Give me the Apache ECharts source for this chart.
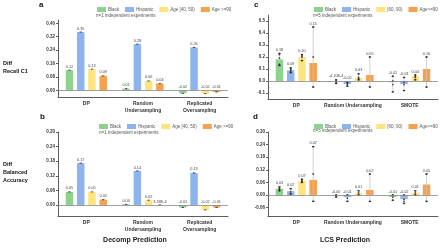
<!DOCTYPE html>
<html>
<head>
<meta charset="utf-8">
<script src="https://cdn.jsdelivr.net/npm/echarts@6/dist/echarts.min.js"></script>
<style>
  html, body { margin: 0; padding: 0; background: #fff; }
  #main { width: 440px; height: 248px; }
</style>
</head>
<body>
<div id="main"></div>
<script>
  const catsDecomp = ['DP', 'Random\nUndersampling', 'Replicated\nOversampling'];
  const catsLcs = ['DP', 'Random Undersampling', 'SMOTE'];
  const namesDecomp = ['Black', 'Hispanic', 'Age [40, 50)', 'Age >=90'];
  const namesLcs = ['Black', 'Hispanic', '[60, 90)', 'Age>=90'];
  const colors = ['#8fd18f', '#8db4ef', '#fde47f', '#f7a04e'];

  // a: Diff Recall C1, Decomp (n=1) - one row per group, one value per category
  const recallDecomp = [
    [0.12, 0.01, -0.018],
    [0.348, 0.276, 0.256],
    [0.126, 0.056, -0.02],
    [0.086, 0.04, -0.01],
  ];
  // b: Diff Balanced Accuracy, Decomp (n=1)
  const balancedDecomp = [
    [0.054, 0.003, -0.01],
    [0.172, 0.14, 0.132],
    [0.054, 0.02, -0.02],
    [0.022, 0.000333, -0.01],
  ];

  // c: Diff Recall C1, LCS (n=5)
  const recallLcsMean = [
    [0.18, -0.00041, -0.01],
    [0.088, -0.024, -0.026],
    [0.2, 0.026, 0.04],
    [0.15, 0.05, 0.1],
  ];
  const recallLcsLow = [
    [0.13, -0.02, -0.09],
    [0.07, -0.045, -0.08],
    [0.17, 0.01, 0.01],
    [-0.05, -0.05, -0.05],
  ];
  const recallLcsHigh = [
    [0.23, 0.01, 0.04],
    [0.11, -0.01, 0.03],
    [0.22, 0.06, 0.05],
    [0.45, 0.2, 0.2],
  ];
  const recallLcsPoints = [
    [[0.22, 0.23, 0.19, 0.14, 0.13], [0.01, 0.0, -0.01, -0.02], [0.04, 0.0, -0.03, -0.09]],
    [[0.11, 0.1, 0.09, 0.08, 0.07], [-0.01, -0.02, -0.03, -0.04], [0.03, -0.01, -0.03, -0.08]],
    [[0.22, 0.21, 0.2, 0.17], [0.06, 0.03, 0.02, 0.01], [0.05, 0.04, 0.03, 0.01]],
    [[0.45, 0.2, -0.05], [0.2, -0.05], [0.2, -0.05]],
  ];

  // d: Diff Balanced Accuracy, LCS (n=5)
  const balancedLcsMean = [
    [0.03, -0.003, -0.01],
    [0.018, -0.01, -0.02],
    [0.067, 0.01, 0.01],
    [0.072, 0.024, 0.05],
  ];
  const balancedLcsLow = [
    [0.02, -0.01, -0.025],
    [0.005, -0.03, -0.04],
    [0.06, 0.0, 0.0],
    [-0.03, -0.03, -0.03],
  ];
  const balancedLcsHigh = [
    [0.04, 0.0, 0.0],
    [0.03, 0.0, 0.0],
    [0.075, 0.02, 0.02],
    [0.23, 0.1, 0.1],
  ];
  const balancedLcsPoints = [
    [[0.035, 0.03, 0.025, 0.02], [0.0, -0.005, -0.01], [0.0, -0.01, -0.025]],
    [[0.03, 0.015, 0.005], [0.0, -0.015, -0.03], [0.0, -0.02, -0.03, -0.04]],
    [[0.075, 0.07, 0.065, 0.06], [0.02, 0.01, 0.0], [0.02, 0.01, 0.0]],
    [[0.23, 0.1, -0.03], [0.1, -0.03], [0.1, -0.03]],
  ];

  const ticksA = [0, 0.08, 0.16, 0.24, 0.32, 0.4];
  const ticksB = [0, 0.06, 0.12, 0.18, 0.24, 0.3];
  const ticksC = [-0.1, 0, 0.1, 0.2, 0.3, 0.4, 0.5];
  const ticksD = [-0.06, 0, 0.06, 0.12, 0.18, 0.24, 0.3];

  const font = 'Liberation Sans, Arial, sans-serif';
  const myChart = echarts.init(document.getElementById('main'));

  const grids = [
    {left: 58, top: 20, width: 170, height: 77},
    {left: 58, top: 132, width: 170, height: 84},
    {left: 268, top: 15, width: 170, height: 84},
    {left: 268, top: 132, width: 170, height: 84},
  ];

  function fmt(v) {
    if (v !== 0 && Math.abs(v) < 0.001) return v.toExponential(2).toUpperCase();
    return v.toFixed(2);
  }

  function xAxis(gi, cats) {
    return {
      type: 'category', gridIndex: gi, data: cats,
      axisLine: {onZero: false, lineStyle: {color: '#333', width: 0.8}},
      axisTick: {alignWithLabel: true, length: 2, lineStyle: {color: '#333', width: 0.8}},
      axisLabel: {interval: 0, hideOverlap: false, fontSize: 5, fontWeight: 'bold', color: '#333',
        fontFamily: font, margin: 3, lineHeight: 7},
    };
  }

  function yAxis(gi, min, max, ticks, dec) {
    return {
      type: 'value', gridIndex: gi, min, max,
      splitLine: {show: false},
      axisLine: {show: true, lineStyle: {color: '#333', width: 0.8}},
      axisTick: {show: true, length: 2, customValues: ticks, lineStyle: {color: '#333', width: 0.8}},
      axisLabel: {customValues: ticks, fontSize: 4.5, fontWeight: 'bold', color: '#333', fontFamily: font, margin: 3,
        formatter: v => v.toFixed(dec)},
    };
  }

  const zeroLine = {
    silent: true, symbol: 'none', label: {show: false},
    lineStyle: {color: '#888', width: 0.8, type: 'solid'},
    data: [{yAxis: 0}],
  };

  function errorBar(off) {
    return function (params, api) {
      const k = api.value(0), m = api.value(1), lo = api.value(2), hi = api.value(3);
      const x = api.coord([k, 0])[0] + off;
      const yLo = api.coord([k, lo])[1];
      const yHi = api.coord([k, hi])[1];
      const yTop = api.coord([k, Math.max(hi, 0)])[1];
      const children = [];
      if (hi > lo) {
        children.push({type: 'line', shape: {x1: x, y1: yLo, x2: x, y2: yHi},
          style: {stroke: '#c4c4c4', lineWidth: 0.8}});
        children.push({type: 'line', shape: {x1: x - 1.2, y1: yLo, x2: x + 1.2, y2: yLo},
          style: {stroke: '#222', lineWidth: 0.8}});
      }
      children.push({type: 'line', shape: {x1: x - 1.2, y1: yHi, x2: x + 1.2, y2: yHi},
        style: {stroke: '#222', lineWidth: 0.8}});
      children.push({type: 'text', x: x, y: yTop - 1.5,
        style: {text: fmt(m), fontSize: 3.8, fill: '#444', fontFamily: font, align: 'center', verticalAlign: 'bottom'}});
      return {type: 'group', children};
    };
  }

  const series = [];
  function addPanel(gi, names, means, lows, highs, points) {
    names.forEach((name, i) => {
      const off = (i - 1.5) * 11.25;
      series.push({
        type: 'bar', name, xAxisIndex: gi, yAxisIndex: gi, data: means[i],
        barWidth: 7.5, barGap: '50%', itemStyle: {color: colors[i]},
        markLine: i === 0 ? zeroLine : undefined,
      });
      series.push({
        type: 'custom', xAxisIndex: gi, yAxisIndex: gi, z: 3,
        renderItem: errorBar(off),
        data: means[i].map((m, k) => [k, m, lows ? lows[i][k] : m, highs ? highs[i][k] : m]),
      });
      if (points) {
        series.push({
          type: 'scatter', xAxisIndex: gi, yAxisIndex: gi, z: 4,
          symbolSize: 1.8, symbolOffset: [off, 0], itemStyle: {color: '#222'},
          data: points[i].flatMap((vals, k) => vals.map(v => [k, v])),
        });
      }
    });
  }
  addPanel(0, namesDecomp, recallDecomp);
  addPanel(1, namesDecomp, balancedDecomp);
  addPanel(2, namesLcs, recallLcsMean, recallLcsLow, recallLcsHigh, recallLcsPoints);
  addPanel(3, namesLcs, balancedLcsMean, balancedLcsLow, balancedLcsHigh, balancedLcsPoints);

  function legend(names, left, top) {
    return {
      data: names, left, top, icon: 'rect', itemWidth: 9, itemHeight: 5, itemGap: 6, padding: 0,
      textStyle: {fontSize: 4.5, color: '#555', fontFamily: font, padding: [0, 0, 0, -3]},
    };
  }

  function txt(x, y, text, size, extra) {
    return {type: 'text', x, y, style: Object.assign({text, fontSize: size, fontFamily: font,
      fill: '#111', fontWeight: 'bold'}, extra || {})};
  }

  myChart.setOption({
    animation: false,
    grid: grids,
    xAxis: [xAxis(0, catsDecomp), xAxis(1, catsDecomp), xAxis(2, catsLcs), xAxis(3, catsLcs)],
    yAxis: [
      yAxis(0, -0.04, 0.42, ticksA, 2),
      yAxis(1, -0.045, 0.3, ticksB, 2),
      yAxis(2, -0.15, 0.55, ticksC, 1),
      yAxis(3, -0.1, 0.3, ticksD, 2),
    ],
    legend: [
      legend(namesDecomp, 97, 7),
      legend(namesDecomp, 99, 124),
      legend(namesLcs, 314, 7),
      legend(namesLcs, 314, 124),
    ],
    graphic: [
      txt(39, 1, 'a', 8),
      txt(40, 113, 'b', 8),
      txt(254, 1, 'c', 8),
      txt(253, 113, 'd', 8),
      txt(96, 13, 'n=1 independent experiments', 4.5, {fill: '#555', fontWeight: 'normal'}),
      txt(99, 130, 'n=1 independent experiments', 4.5, {fill: '#555', fontWeight: 'normal'}),
      txt(313, 13, 'n=5 independent experiments', 4.5, {fill: '#555', fontWeight: 'normal'}),
      txt(313, 128, 'n=5 independent experiments', 4.5, {fill: '#555', fontWeight: 'normal'}),
      txt(3, 59, 'Diff\nRecall C1', 5.5, {lineHeight: 8}),
      txt(3, 160, 'Diff\nBalanced\nAccuracy', 5.5, {lineHeight: 8}),
      txt(135, 240, 'Decomp Prediction', 7, {align: 'center', verticalAlign: 'middle', fill: '#222'}),
      txt(345, 240, 'LCS Prediction', 7, {align: 'center', verticalAlign: 'middle', fill: '#222'}),
    ],
    series,
  });
</script>
</body>
</html>
